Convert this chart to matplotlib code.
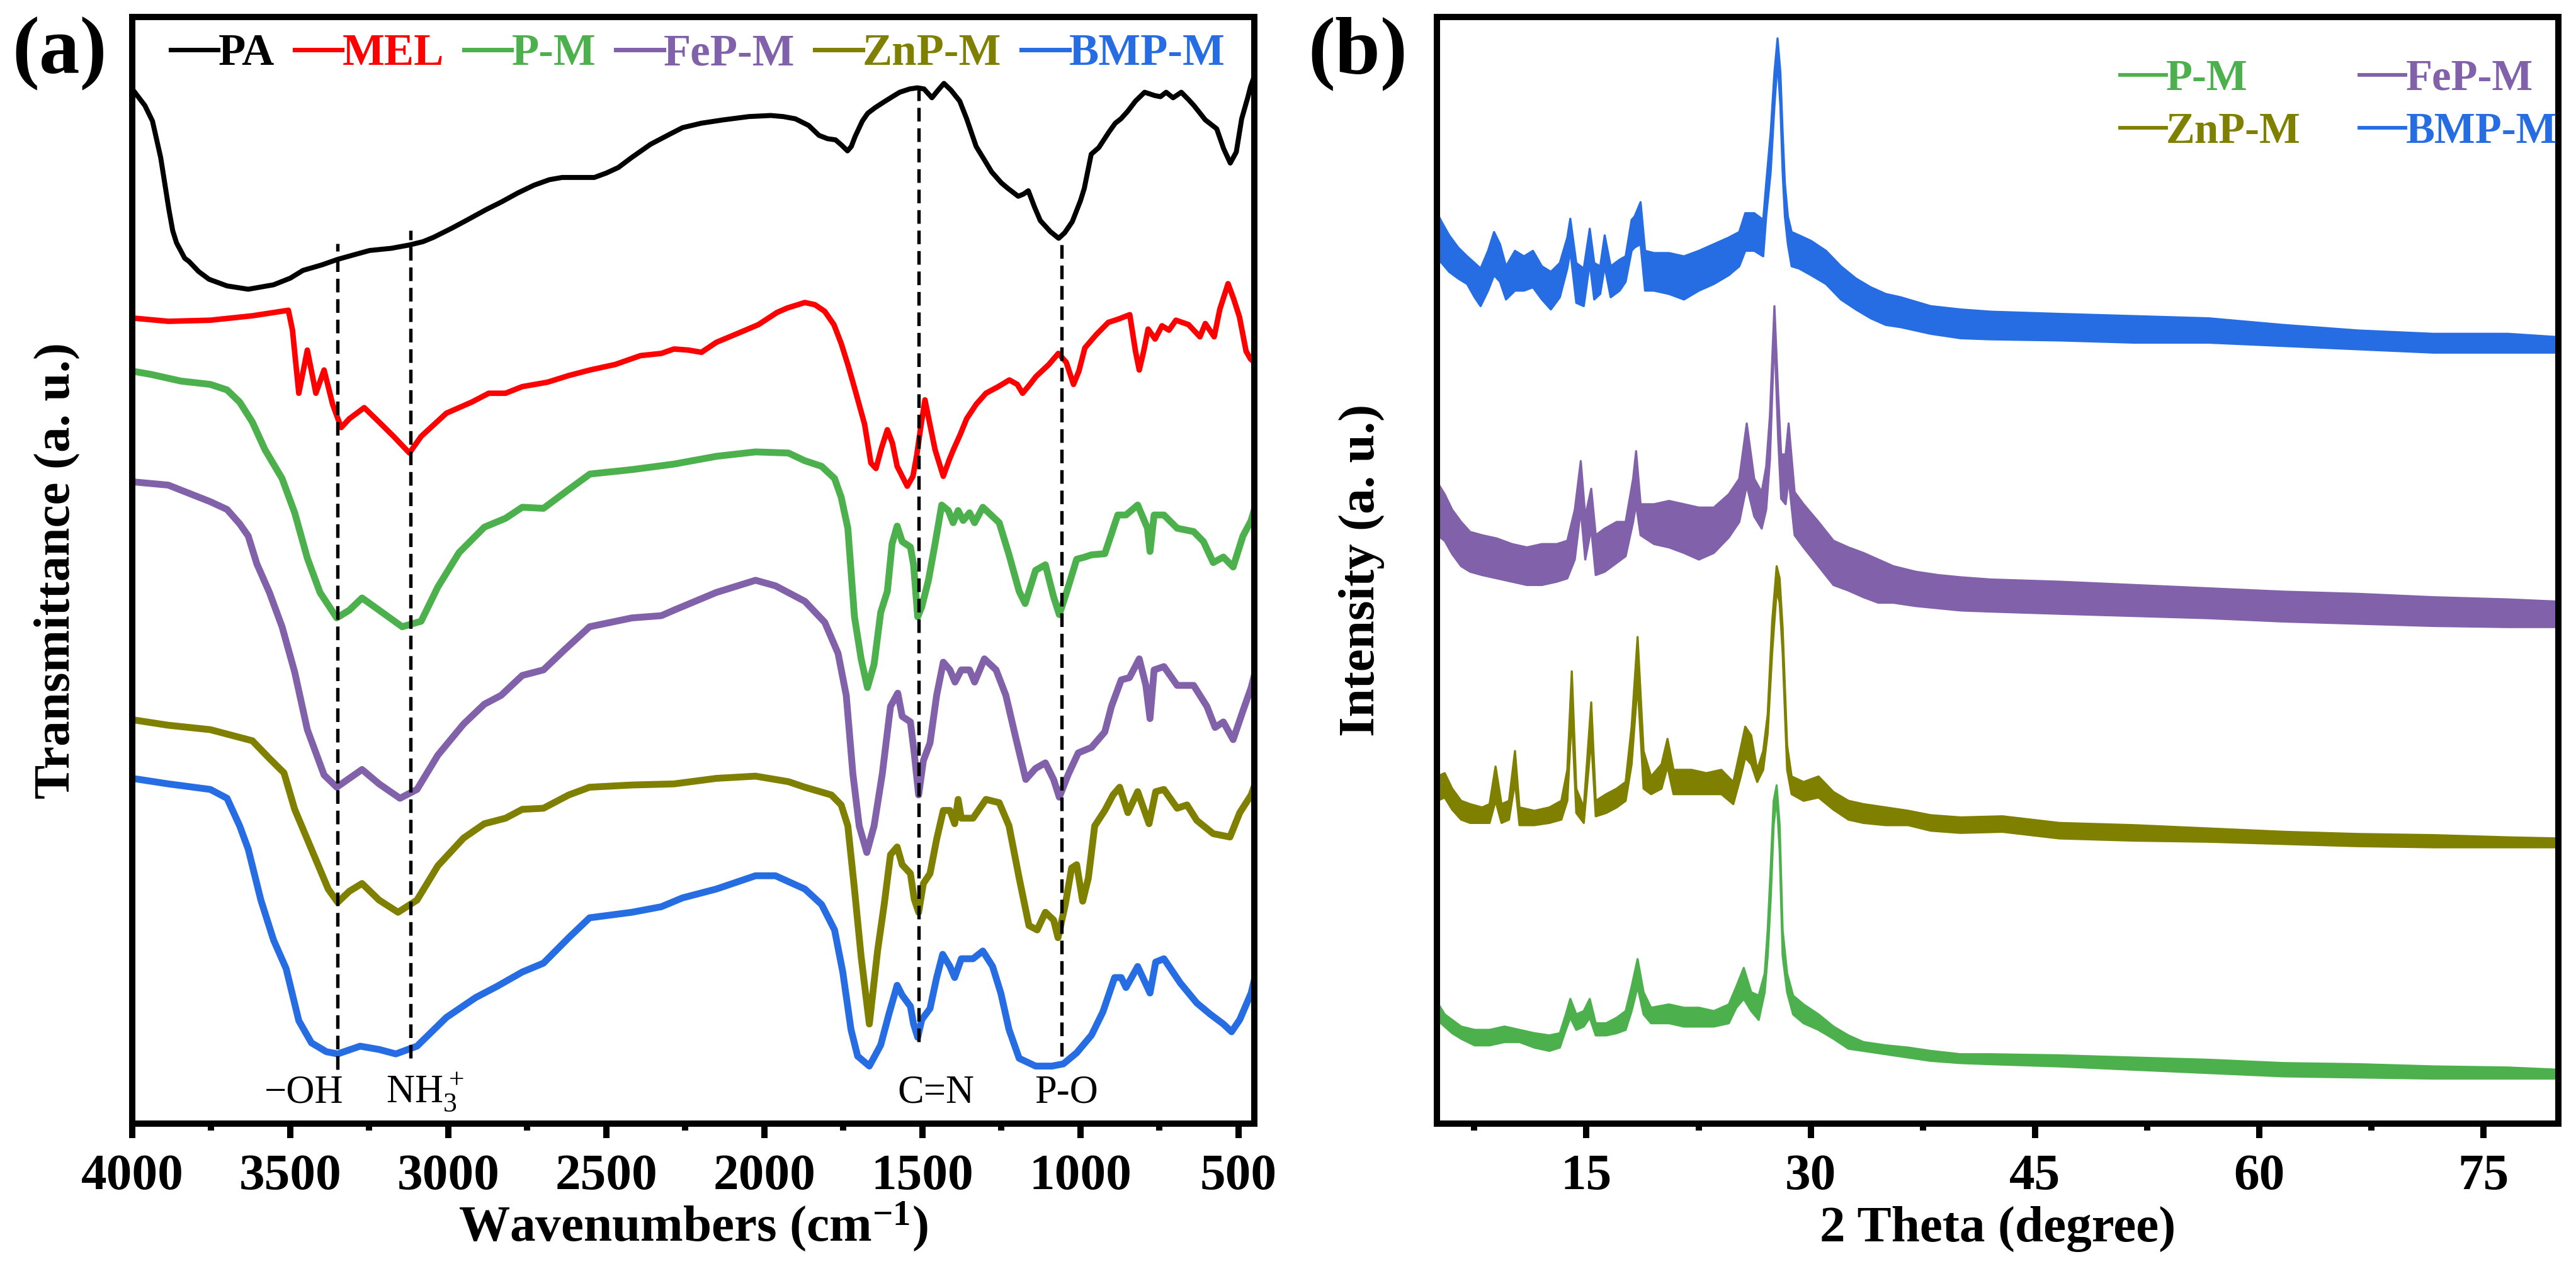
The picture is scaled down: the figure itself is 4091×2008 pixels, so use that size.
import matplotlib
matplotlib.use("Agg")
import matplotlib.pyplot as plt
from matplotlib.lines import Line2D
from matplotlib.ticker import MultipleLocator

plt.rcParams['font.family'] = ['Liberation Serif', 'DejaVu Sans']
plt.rcParams['mathtext.fontset'] = 'custom'
plt.rcParams['mathtext.rm'] = 'Liberation Serif'
plt.rcParams['mathtext.bf'] = 'Liberation Serif:bold'
plt.rcParams['mathtext.default'] = 'regular'

# ---------------- FTIR data (a) ----------------
pa_wn = [4000, 3960, 3936, 3910, 3884, 3872, 3860, 3834, 3820, 3790, 3757, 3700, 3633, 3553, 3500, 3460, 3400, 3350,
         3300, 3249, 3180, 3123, 3080, 3046, 2990, 2944, 2880, 2831, 2780, 2729, 2680, 2640, 2580, 2538, 2500, 2462,
         2420, 2360, 2300, 2259, 2200, 2131, 2050, 1980, 1940, 1902, 1860, 1827, 1800, 1775, 1755, 1737, 1725, 1713,
         1690, 1673, 1650, 1623, 1595, 1572, 1540, 1516, 1495, 1470, 1450, 1432, 1410, 1382, 1360, 1330, 1300, 1281,
         1250, 1229, 1197, 1180, 1165, 1145, 1127, 1095, 1069, 1050, 1026, 1000, 988, 966, 942, 910, 890, 872, 850,
         826, 797, 765, 747, 729, 707, 681, 657, 641, 605, 569, 547, 526, 507, 490, 470, 462, 452]
pa_t = [93.5, 92.0, 90.6, 87.3, 82.6, 80.7, 79.6, 78.2, 77.9, 77.0, 76.3, 75.7, 75.4, 75.8, 76.4, 77.1, 77.6, 78.1,
        78.5, 78.9, 79.1, 79.4, 79.7, 80.1, 80.9, 81.6, 82.6, 83.3, 84.1, 84.8, 85.3, 85.5, 85.5, 85.5, 85.9, 86.4,
        87.3, 88.5, 89.4, 90.0, 90.4, 90.7, 91.0, 91.1, 91.0, 90.8, 90.2, 89.3, 89.0, 88.9, 88.4, 87.9, 88.3, 89.2,
        90.6, 91.3, 91.8, 92.3, 92.8, 93.2, 93.5, 93.6, 93.5, 92.7, 93.4, 94.0, 93.4, 92.4, 90.8, 88.3, 86.9, 86.0,
        85.0, 84.5, 83.8, 84.0, 84.3, 82.8, 81.6, 80.6, 80.0, 80.5, 81.5, 83.4, 84.5, 87.6, 88.2, 89.6, 90.4, 90.8,
        91.5, 92.4, 93.2, 92.9, 92.8, 93.2, 92.7, 93.2, 92.5, 92.0, 90.7, 89.9, 88.1, 86.8, 87.8, 90.8, 92.8, 93.7,
        94.5]

mel_wn = [4000, 3886, 3753, 3620, 3506, 3493, 3473, 3446, 3419, 3393, 3366, 3339, 3313, 3266, 3219, 3173, 3123, 3086,
          3006, 2926, 2872, 2819, 2766, 2686, 2619, 2552, 2472, 2392, 2326, 2286, 2240, 2199, 2152, 2085, 2019, 1960,
          1928, 1872, 1840, 1809, 1780, 1757, 1735, 1715, 1683, 1663, 1647, 1630, 1611, 1595, 1580, 1548, 1530, 1518,
          1505, 1492, 1475, 1460, 1434, 1415, 1402, 1380, 1360, 1330, 1299, 1260, 1225, 1200, 1183, 1160, 1141, 1100,
          1070, 1045, 1022, 1005, 986, 950, 912, 880, 844, 826, 814, 800, 786, 764, 742, 720, 698, 658, 622, 605, 577,
          559, 533, 515, 497, 476, 462, 450]
mel_t = [72.8, 72.5, 72.6, 73.0, 73.5, 71.7, 66.0, 69.9, 66.0, 68.1, 65.0, 62.9, 63.7, 64.7, 63.4, 62.1, 60.6, 62.1,
         64.2, 65.2, 66.0, 66.0, 66.6, 67.0, 67.6, 68.1, 68.6, 69.4, 69.6, 70.0, 69.9, 69.7, 70.6, 71.4, 72.2, 73.3,
         73.7, 74.2, 74.0, 73.4, 72.2, 70.5, 68.5, 66.5, 63.2, 59.7, 59.2, 61.0, 62.7, 61.5, 59.4, 57.6, 58.5, 60.4,
         63.0, 65.4, 63.0, 60.9, 58.5, 60.0, 60.9, 62.3, 63.7, 65.0, 66.0, 66.6, 67.2, 66.8, 66.0, 66.8, 67.5, 68.6,
         69.6, 68.8, 66.8, 68.0, 70.1, 71.3, 72.4, 72.7, 73.1, 69.8, 68.1, 69.8, 71.8, 70.9, 72.1, 71.7, 72.6, 72.2,
         71.1, 72.3, 71.1, 73.6, 75.9, 74.5, 72.9, 69.8, 69.1, 68.8]

pm_wn = [4000, 3940, 3846, 3753, 3700, 3660, 3620, 3580, 3526, 3486, 3446, 3406, 3353, 3313, 3273, 3219, 3146, 3086,
         3033, 2966, 2886, 2819, 2766, 2699, 2619, 2552, 2419, 2286, 2152, 2028, 1924, 1872, 1819, 1778, 1757, 1736,
         1715, 1694, 1674, 1653, 1632, 1611, 1596, 1580, 1564, 1538, 1528, 1515, 1502, 1481, 1460, 1439, 1418, 1403,
         1387, 1371, 1351, 1335, 1309, 1257, 1226, 1194, 1175, 1142, 1111, 1085, 1067, 1043, 1012, 986, 965, 923, 882,
         856, 819, 788, 780, 767, 736, 694, 642, 611, 580, 548, 517, 486, 460, 450]
pm_t = [68.0, 67.7, 67.1, 66.8, 66.3, 65.2, 63.4, 60.9, 58.3, 55.2, 51.1, 48.0, 45.7, 46.4, 47.5, 46.4, 44.9, 45.4,
        48.5, 51.6, 53.9, 54.7, 55.7, 55.6, 57.3, 58.7, 59.1, 59.6, 60.3, 60.7, 60.6, 59.9, 59.4, 58.3, 56.6, 53.8,
        45.8, 42.0, 39.4, 41.5, 46.2, 48.1, 52.4, 54.0, 52.6, 52.1, 50.5, 45.8, 46.7, 49.1, 52.4, 55.9, 55.4, 54.3,
        55.4, 54.5, 55.2, 54.3, 55.7, 54.3, 51.4, 48.1, 47.0, 50.0, 50.5, 47.6, 46.0, 48.1, 51.0, 51.2, 51.4, 51.5,
        55.0, 55.0, 55.9, 53.8, 51.7, 55.0, 55.0, 53.8, 53.5, 52.6, 50.7, 51.2, 50.3, 53.1, 54.5, 55.5]

fepm_wn = [4000, 3886, 3753, 3700, 3660, 3633, 3606, 3566, 3526, 3486, 3446, 3393, 3353, 3313, 3273, 3219, 3153, 3099,
           3033, 2952, 2886, 2833, 2766, 2699, 2633, 2553, 2419, 2326, 2286, 2152, 2028, 1965, 1872, 1809, 1767, 1741,
           1720, 1700, 1676, 1653, 1627, 1601, 1578, 1564, 1538, 1526, 1512, 1497, 1476, 1455, 1434, 1413, 1397, 1377,
           1351, 1335, 1304, 1267, 1236, 1205, 1173, 1142, 1111, 1085, 1067, 1038, 1007, 965, 923, 902, 871, 845, 814,
           793, 780, 767, 736, 694, 642, 600, 574, 548, 517, 486, 460, 450]
fepm_t = [58.0, 57.7, 56.2, 55.5, 54.2, 53.1, 50.6, 48.0, 44.9, 40.8, 35.6, 31.5, 30.4, 31.2, 32.0, 30.7, 29.4, 30.2,
          33.3, 36.1, 37.9, 38.7, 40.5, 41.0, 42.8, 44.9, 45.7, 45.9, 46.4, 48.0, 49.1, 48.6, 47.2, 45.3, 42.5, 38.7,
          31.6, 26.9, 24.5, 26.9, 31.6, 37.7, 38.9, 36.8, 36.3, 33.5, 29.7, 32.8, 34.4, 38.7, 41.7, 41.0, 39.9, 41.0,
          41.0, 39.9, 42.0, 41.0, 38.7, 34.9, 31.1, 32.1, 32.6, 31.1, 29.5, 31.6, 33.5, 34.0, 35.4, 37.7, 40.1, 40.3,
          42.0, 39.6, 36.6, 41.0, 41.3, 39.6, 39.6, 37.7, 35.8, 36.3, 34.7, 37.3, 39.4, 40.5]

znpm_wn = [4000, 3886, 3753, 3660, 3620, 3566, 3520, 3486, 3433, 3380, 3350, 3313, 3273, 3219, 3159, 3099, 3033, 2952,
           2886, 2819, 2766, 2699, 2619, 2553, 2419, 2286, 2152, 2028, 1924, 1872, 1788, 1757, 1736, 1715, 1694, 1668,
           1642, 1621, 1601, 1580, 1564, 1538, 1526, 1512, 1497, 1476, 1455, 1434, 1413, 1398, 1387, 1377, 1340, 1299,
           1257, 1226, 1194, 1163, 1137, 1111, 1085, 1071, 1048, 1028, 1012, 993, 975, 955, 923, 897, 876, 850, 819,
           783, 762, 736, 694, 663, 632, 580, 527, 496, 460, 450]
znpm_t = [36.5, 36.0, 35.6, 34.9, 34.6, 33.0, 31.7, 28.4, 24.8, 21.2, 20.0, 21.0, 21.7, 20.2, 19.1, 20.2, 23.3, 25.8,
          27.1, 27.6, 28.4, 28.5, 29.7, 30.4, 30.6, 30.7, 31.2, 31.4, 30.9, 30.4, 29.7, 28.8, 26.9, 21.2, 15.1, 9.0,
          15.6, 19.8, 24.3, 25.0, 23.4, 22.6, 20.3, 19.1, 21.7, 22.6, 25.7, 28.3, 28.3, 27.1, 29.3, 27.6, 27.6, 29.3,
          29.0, 26.9, 22.2, 17.9, 17.5, 19.1, 18.4, 16.8, 19.8, 23.1, 23.4, 20.1, 22.2, 26.9, 28.3, 29.7, 30.4, 28.1,
          30.0, 27.1, 30.0, 30.2, 28.5, 28.8, 27.4, 26.2, 25.9, 28.1, 29.7, 30.5]

bmpm_wn = [4000, 3886, 3753, 3700, 3660, 3633, 3593, 3553, 3513, 3473, 3433, 3386, 3350, 3279, 3219, 3166, 3099, 3006,
           2913, 2846, 2766, 2699, 2619, 2553, 2419, 2326, 2259, 2152, 2028, 1965, 1872, 1819, 1778, 1752, 1726, 1705,
           1668, 1632, 1606, 1580, 1564, 1538, 1528, 1515, 1502, 1476, 1455, 1436, 1413, 1398, 1377, 1340, 1309, 1278,
           1252, 1226, 1194, 1142, 1090, 1054, 1012, 965, 929, 892, 871, 856, 819, 788, 780, 762, 736, 684, 632, 590,
           548, 522, 496, 460, 450]
bmpm_t = [31.2, 30.7, 30.2, 29.4, 26.9, 24.8, 20.2, 16.6, 14.0, 9.3, 7.3, 6.5, 6.3, 7.0, 6.7, 6.3, 7.0, 9.6, 11.4,
          12.4, 13.7, 14.5, 16.8, 18.6, 19.1, 19.6, 20.4, 21.2, 22.4, 22.4, 21.2, 19.8, 17.5, 13.7, 8.5, 6.1, 5.2, 7.1,
          9.9, 12.5, 11.6, 10.6, 9.0, 7.8, 9.4, 10.4, 13.2, 15.3, 14.2, 13.2, 14.9, 14.9, 15.6, 14.2, 11.8, 8.5, 5.9,
          5.2, 5.2, 5.4, 6.4, 8.0, 10.1, 13.2, 13.2, 12.3, 14.2, 12.3, 11.8, 14.6, 14.9, 12.7, 10.9, 9.9, 9.0, 8.3, 9.4,
          11.8, 13.0]

band_wn = [3350, 3120, 1512, 1060]
band_top = [79.5, 80.7, 93.4, 80.0]
band_bottom = [4.9, 5.9, 7.4, 6.1]
band_labels = ['\u2212OH', 'NH$_3^+$', 'C=N', 'P-O']
band_label_wn = [3456, 3073, 1458, 1044]

# ---------------- XRD data (b): noise band upper / lower edge ----------------
bmpm_2t = [5.0, 5.3, 5.8, 6.4, 7.0, 7.5, 7.9, 8.4, 8.8, 9.2, 9.6, 10.2, 10.8, 11.4, 12.0, 12.6, 13.2, 13.7, 13.9, 14.3,
           14.8, 15.2, 15.5, 15.9, 16.2, 16.6, 17.2, 17.6, 18.0, 18.2, 18.6, 18.9, 19.5, 20.5, 21.5, 22.5, 23.5, 24.5,
           25.2, 25.6, 26.2, 26.8, 27.0, 27.3, 27.55, 27.76, 27.95, 28.1, 28.25, 28.45, 28.7, 29.2, 30.0, 31.0, 32.0,
           33.0, 34.0, 35.0, 36.0, 38.0, 40.0, 42.0, 46.6, 51.6, 56.6, 61.6, 66.6, 71.6, 76.6, 80.0]
bmpm_hi = [82.3, 81.5, 80.3, 79.2, 78.4, 77.8, 77.3, 78.9, 80.6, 79.5, 77.5, 78.9, 78.4, 78.9, 77.5, 77.0, 77.8, 80.1,
           81.8, 77.8, 77.3, 80.9, 77.8, 77.5, 80.3, 77.5, 78.1, 78.4, 81.7, 82.0, 83.3, 78.9, 78.7, 78.7, 78.4, 78.9,
           79.5, 80.1, 80.6, 82.3, 82.3, 81.7, 85.0, 89.6, 95.0, 98.1, 95.0, 89.6, 85.0, 82.0, 80.6, 80.3, 79.8, 78.9,
           77.5, 76.4, 75.6, 75.0, 74.7, 73.9, 73.6, 73.4, 73.2, 73.0, 72.8, 72.2, 71.7, 71.4, 71.4, 71.1]
bmpm_lo = [78.1, 77.8, 77.0, 76.4, 75.9, 74.7, 73.9, 75.3, 76.7, 76.1, 74.5, 75.3, 75.3, 75.6, 74.5, 73.6, 74.7, 77.3,
           78.9, 74.2, 73.9, 77.8, 74.5, 75.0, 77.5, 74.7, 75.3, 76.1, 78.9, 79.2, 79.5, 75.3, 75.3, 75.0, 74.5, 75.3,
           75.9, 76.7, 77.5, 78.9, 78.9, 78.4, 82.0, 86.0, 92.0, 96.0, 92.0, 86.0, 82.0, 79.5, 77.5, 77.3, 76.7, 75.9,
           74.5, 73.6, 72.8, 72.2, 72.0, 71.4, 71.0, 70.9, 70.8, 70.6, 70.6, 70.3, 70.0, 69.7, 69.7, 69.7]

fepm_2t = [5.0, 5.5, 6.0, 6.6, 7.2, 8.0, 9.0, 10.0, 11.0, 12.0, 13.0, 13.7, 14.2, 14.6, 14.9, 15.3, 15.6, 16.2, 17.0,
           17.6, 18.1, 18.3, 18.6, 19.5, 20.5, 21.5, 22.5, 23.5, 24.5, 25.2, 25.7, 26.2, 26.7, 27.0, 27.25, 27.55,
           27.8, 28.0, 28.3, 28.5, 28.9, 29.5, 30.5, 31.5, 32.5, 33.5, 34.5, 35.5, 37.0, 38.5, 40.0, 42.0, 46.6, 51.6,
           56.6, 61.6, 66.6, 71.6, 76.6, 80.0]
fepm_hi = [58.0, 56.9, 55.5, 54.4, 53.5, 53.2, 52.9, 52.4, 52.1, 52.4, 52.4, 52.7, 55.5, 59.9, 54.9, 57.4, 53.2, 53.8,
           54.4, 54.4, 58.3, 60.8, 56.0, 56.0, 56.3, 56.0, 55.7, 55.7, 56.9, 58.3, 63.3, 58.3, 57.1, 59.4, 64.0, 73.9,
           66.0, 60.5, 60.5, 63.3, 57.1, 56.0, 54.4, 52.7, 52.1, 51.6, 51.0, 50.4, 49.9, 49.6, 49.4, 49.2, 49.0, 48.7,
           48.4, 48.1, 47.9, 47.6, 47.4, 47.2]
fepm_lo = [53.2, 52.7, 51.5, 50.4, 49.9, 49.6, 49.3, 49.0, 48.7, 48.7, 49.0, 49.3, 51.0, 55.5, 51.0, 53.8, 49.6, 49.9,
           50.7, 51.3, 54.4, 56.0, 53.2, 52.4, 52.1, 51.6, 51.0, 51.6, 53.0, 54.4, 57.7, 54.9, 53.8, 55.5, 60.0, 71.5,
           62.0, 56.5, 56.0, 58.3, 53.2, 52.1, 50.4, 48.7, 48.2, 47.6, 47.1, 47.1, 46.8, 46.6, 46.4, 46.3, 46.1, 45.9,
           45.7, 45.4, 45.2, 45.0, 44.9, 44.9]

znpm_2t = [5.0, 5.5, 6.0, 6.6, 7.2, 8.0, 8.5, 8.9, 9.3, 9.8, 10.2, 10.5, 11.5, 12.5, 13.3, 13.7, 14.0, 14.3, 14.8,
           15.3, 15.6, 16.3, 17.0, 17.6, 18.0, 18.4, 18.8, 19.3, 20.0, 20.4, 20.8, 22.0, 23.0, 24.0, 24.8, 25.3, 25.6,
           26.0, 26.4, 26.8, 27.1, 27.4, 27.7, 27.9, 28.1, 28.4, 28.7, 29.5, 30.5, 31.5, 32.5, 33.5, 35.0, 36.5, 38.0,
           40.0, 42.8, 46.6, 51.6, 56.6, 61.6, 66.6, 71.6, 76.6, 80.0]
znpm_hi = [31.4, 31.7, 30.3, 29.2, 28.9, 28.6, 28.9, 32.3, 28.9, 29.2, 33.7, 28.6, 28.3, 28.6, 29.2, 32.0, 40.9, 30.3,
           28.6, 38.1, 29.2, 29.8, 30.3, 30.9, 35.9, 44.0, 33.7, 31.4, 32.5, 34.8, 32.0, 32.0, 31.7, 32.0, 30.9, 34.0,
           35.9, 35.1, 32.0, 33.7, 37.0, 45.4, 50.4, 49.3, 44.8, 34.2, 31.4, 30.9, 31.4, 30.0, 29.2, 28.9, 28.6, 28.3,
           27.9, 27.7, 27.8, 27.2, 27.0, 26.7, 26.4, 26.2, 26.1, 25.9, 25.8]
znpm_lo = [29.2, 29.5, 28.4, 27.5, 27.2, 27.2, 27.2, 29.2, 27.2, 27.5, 30.9, 27.0, 27.0, 27.2, 27.5, 29.2, 37.0, 28.1,
           27.2, 34.8, 27.8, 28.1, 28.6, 29.2, 32.5, 39.8, 30.3, 29.8, 30.3, 32.3, 29.8, 29.8, 29.8, 29.8, 28.9, 31.4,
           33.1, 32.5, 30.9, 32.0, 35.3, 42.6, 48.2, 47.1, 42.6, 32.0, 29.8, 29.2, 29.5, 28.4, 27.5, 27.2, 27.0, 27.0,
           26.5, 26.3, 26.4, 25.8, 25.6, 25.5, 25.3, 25.1, 25.0, 25.0, 25.0]

pm_2t = [5.0, 5.5, 6.0, 6.6, 7.5, 8.5, 9.5, 10.5, 11.5, 12.5, 13.2, 13.6, 13.9, 14.3, 14.8, 15.2, 15.6, 16.3, 17.0,
         17.6, 18.0, 18.4, 18.8, 19.3, 20.5, 21.5, 22.5, 23.5, 24.5, 25.0, 25.5, 26.0, 26.5, 26.9, 27.1, 27.3, 27.5,
         27.7, 27.9, 28.1, 28.4, 28.8, 29.5, 30.5, 31.5, 32.5, 33.5, 35.0, 36.5, 38.0, 40.0, 42.0, 46.6, 51.6, 56.6,
         61.6, 66.6, 71.6, 76.6, 80.0]
pm_hi = [11.0, 9.9, 9.4, 8.8, 8.5, 8.5, 8.8, 8.5, 8.2, 8.0, 8.2, 9.9, 11.3, 9.9, 10.2, 11.3, 9.1, 9.1, 9.6, 10.2, 12.4,
         14.9, 11.9, 10.5, 10.8, 10.5, 10.5, 10.2, 10.8, 12.4, 14.1, 11.9, 11.6, 13.6, 17.5, 23.1, 29.2, 30.6, 27.0,
         17.5, 13.6, 11.6, 10.8, 9.9, 8.8, 8.0, 7.4, 7.1, 6.9, 6.6, 6.3, 6.3, 6.2, 6.0, 5.8, 5.5, 5.4, 5.2, 5.1, 4.9]
pm_lo = [9.4, 8.8, 8.2, 7.7, 7.1, 7.1, 7.4, 7.4, 6.9, 6.6, 6.9, 8.5, 9.6, 8.5, 8.8, 9.6, 8.0, 8.0, 8.2, 8.5, 10.2, 12.4,
         9.9, 9.1, 9.1, 8.8, 8.8, 8.8, 9.1, 10.5, 11.3, 10.2, 9.4, 11.9, 15.2, 20.3, 27.0, 29.5, 24.7, 15.2, 11.9, 9.9,
         9.1, 8.5, 7.7, 6.8, 6.6, 6.3, 6.0, 5.7, 5.5, 5.4, 5.2, 4.9, 4.6, 4.3, 4.2, 4.1, 4.1, 4.1]

# colours
c_pa, c_mel, c_pm, c_fe, c_zn, c_bm = '#000000', '#FF0000', '#4CB14C', '#8061AA', '#808000', '#266DE4'


def style_axis(ax):
    for s in ax.spines.values():
        s.set_linewidth(2.4)
    ax.tick_params(axis='x', which='major', direction='out', length=5.5, width=2.4, pad=6,
                   labelsize=19.5, top=False)
    ax.tick_params(axis='x', which='minor', direction='out', length=2.6, width=2.4, top=False)
    ax.set_yticks([])
    for lab in ax.get_xticklabels():
        lab.set_fontweight('bold')


def main() -> None:
    fig = plt.figure(figsize=(4091 / 300, 2008 / 300), dpi=300)
    ax1 = fig.add_axes([210 / 4091, 223 / 2008, 1782 / 4091, 1758 / 2008])
    ax2 = fig.add_axes([2282 / 4091, 223 / 2008, 1781 / 4091, 1758 / 2008])

    # ---- (a) FTIR ----
    ax1.plot(pa_wn, pa_t, color=c_pa, lw=1.9, label='PA', solid_joinstyle='round')
    ax1.plot(mel_wn, mel_t, color=c_mel, lw=2.1, label='MEL', solid_joinstyle='round')
    ax1.plot(pm_wn, pm_t, color=c_pm, lw=2.6, label='P-M', solid_joinstyle='round')
    ax1.plot(fepm_wn, fepm_t, color=c_fe, lw=2.6, label='FeP-M', solid_joinstyle='round')
    ax1.plot(znpm_wn, znpm_t, color=c_zn, lw=2.6, label='ZnP-M', solid_joinstyle='round')
    ax1.plot(bmpm_wn, bmpm_t, color=c_bm, lw=2.6, label='BMP-M', solid_joinstyle='round')
    ax1.vlines(band_wn, band_bottom, band_top, colors='k', lw=1.3, linestyles=(0, (4, 2)), zorder=5)
    for w, lab in zip(band_label_wn, band_labels):
        ax1.text(w, 1.9, lab, ha='center', va='baseline', fontsize=15)

    ax1.set_xlim(4000, 450)
    ax1.set_ylim(0, 100)
    ax1.xaxis.set_major_locator(MultipleLocator(500))
    ax1.xaxis.set_minor_locator(MultipleLocator(250))
    style_axis(ax1)
    ax1.set_xlabel('Wavenumbers (cm$^{-1}$)', fontsize=19.5, fontweight='bold', va='baseline')
    ax1.xaxis.set_label_coords(0.5, -0.1064)
    ax1.set_ylabel('Transmittance (a. u.)', fontsize=19.5, fontweight='bold', va='center')
    ax1.yaxis.set_label_coords(-0.067, 0.5)

    leg1 = ax1.legend(ncol=6, loc='upper left', bbox_to_anchor=(0.034, 0.985), frameon=False,
                      handlelength=1.07, handletextpad=0.0, columnspacing=0.45, borderpad=0,
                      borderaxespad=0, prop={'weight': 'bold', 'size': 17}, labelcolor='linecolor')
    for ln in leg1.get_lines():
        ln.set_linewidth(1.7)

    # ---- (b) XRD ----
    ax2.fill_between(pm_2t, pm_lo, pm_hi, color=c_pm, lw=0.8)
    ax2.fill_between(znpm_2t, znpm_lo, znpm_hi, color=c_zn, lw=0.8)
    ax2.fill_between(fepm_2t, fepm_lo, fepm_hi, color=c_fe, lw=0.8)
    ax2.fill_between(bmpm_2t, bmpm_lo, bmpm_hi, color=c_bm, lw=0.8)
    ax2.set_xlim(5, 80)
    ax2.set_ylim(0, 100)
    ax2.set_xticks([15, 30, 45, 60, 75])
    ax2.xaxis.set_minor_locator(MultipleLocator(7.5))
    style_axis(ax2)
    ax2.set_xlabel('2 Theta (degree)', fontsize=19.5, fontweight='bold', va='baseline')
    ax2.xaxis.set_label_coords(0.5, -0.1064)
    ax2.set_ylabel('Intensity (a. u.)', fontsize=19.5, fontweight='bold', va='center')
    ax2.yaxis.set_label_coords(-0.067, 0.5)

    handles = [Line2D([], [], color=c_pm, lw=1.4), Line2D([], [], color=c_zn, lw=1.4),
               Line2D([], [], color=c_fe, lw=1.4), Line2D([], [], color=c_bm, lw=1.4)]
    names = ['P-M', 'ZnP-M', 'FeP-M', 'BMP-M']
    ax2.legend(handles, names, ncol=2, loc='upper left', bbox_to_anchor=(0.609, 0.962), frameon=False,
               handlelength=1.07, handletextpad=0.0, columnspacing=1.35, labelspacing=0.3, borderpad=0,
               borderaxespad=0, prop={'weight': 'bold', 'size': 16.5}, labelcolor='linecolor')

    fig.text(95 / 4091, 1 - 85 / 2008, '(a)', fontsize=31, fontweight='bold', ha='center', va='center')
    fig.text(2156 / 4091, 1 - 85 / 2008, '(b)', fontsize=31, fontweight='bold', ha='center', va='center')

    fig.savefig('out.png', dpi=300)


if __name__ == "__main__":
    main()
